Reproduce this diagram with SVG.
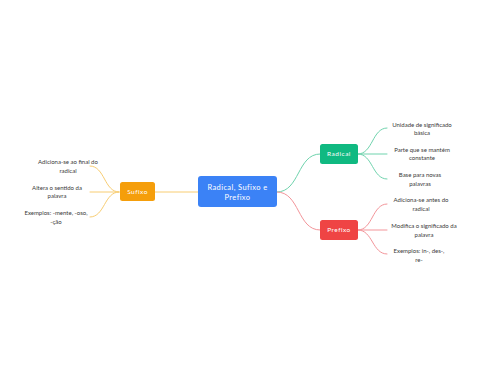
<svg xmlns="http://www.w3.org/2000/svg" width="480" height="384" viewBox="0 0 480 384">
<style>
.bg{fill:#ffffff}
.c{fill:none;stroke-width:1;stroke-linecap:round}
.g{stroke:#6fd3ad}
.r{stroke:#f3959a}
.o{stroke:#f8cd72}
.nt{font-family:Lato,"Noto Sans",sans-serif;font-size:6.5px;fill:#ffffff;text-anchor:middle;letter-spacing:0.5px}
.ct{font-family:Lato,"Noto Sans",sans-serif;font-size:7.5px;fill:#ffffff;text-anchor:middle;letter-spacing:0.4px}
.lt{font-family:Lato,"Noto Sans",sans-serif;font-size:6px;fill:#3a3a3a;text-anchor:middle}
</style>
<rect class="bg" x="0" y="0" width="480" height="384"/>
<g id="connectors">
<path class="c g" d="M277,192 C300,192 297,154 320,154"/>
<path class="c r" d="M277,192 C300,192 297,230 320,230"/>
<path class="c o" d="M198,192 L154,192"/>
<path class="c g" d="M358,154 C373,154 372,128 387,128"/>
<path class="c g" d="M358,154 L387,154"/>
<path class="c g" d="M358,154 C373,154 372,179 387,179"/>
<path class="c r" d="M358,230 C373,230 372,204 387,204"/>
<path class="c r" d="M358,230 L387,230"/>
<path class="c r" d="M358,230 C373,230 372,254 387,254"/>
<path class="c o" d="M119,192 C104,192 105,166 90,166"/>
<path class="c o" d="M119,192 L90,192"/>
<path class="c o" d="M119,192 C104,192 105,217 90,217"/>
</g>
<g id="center">
<rect x="198" y="176" width="79" height="31" rx="3" fill="#3b82f6"/>
<text class="ct" x="237.5" y="189.5">Radical, Sufixo e</text>
<text class="ct" x="237.5" y="200">Prefixo</text>
</g>
<g id="radical">
<rect x="320" y="144" width="38" height="20" rx="2.5" fill="#10b981"/>
<text class="nt" x="339" y="156.3">Radical</text>
</g>
<g id="prefixo">
<rect x="320" y="220" width="38" height="20" rx="2.5" fill="#ef4444"/>
<text class="nt" x="339" y="232.3">Prefixo</text>
</g>
<g id="sufixo">
<rect x="120" y="182" width="35" height="19" rx="2.5" fill="#f59e0b"/>
<text class="nt" x="137.5" y="193.8">Sufixo</text>
</g>
<g id="r1"><text class="lt" x="422" y="126.5">Unidade de significado</text><text class="lt" x="422" y="135">básica</text></g>
<g id="r2"><text class="lt" x="422" y="151.5">Parte que se mantém</text><text class="lt" x="422" y="160">constante</text></g>
<g id="r3"><text class="lt" x="420" y="177">Base para novas</text><text class="lt" x="420" y="185.5">palavras</text></g>
<g id="p1"><text class="lt" x="421" y="202">Adiciona-se antes do</text><text class="lt" x="421" y="210.5">radical</text></g>
<g id="p2"><text class="lt" x="424" y="228">Modifica o significado da</text><text class="lt" x="424" y="236.5">palavra</text></g>
<g id="p3"><text class="lt" x="419" y="253">Exemplos: in-, des-,</text><text class="lt" x="419" y="261.5">re-</text></g>
<g id="s1"><text class="lt" x="68" y="164">Adiciona-se ao final do</text><text class="lt" x="68" y="172.5">radical</text></g>
<g id="s2"><text class="lt" x="57" y="189.5">Altera o sentido da</text><text class="lt" x="57" y="198">palavra</text></g>
<g id="s3"><text class="lt" x="56" y="215">Exemplos: -mente, -oso,</text><text class="lt" x="56" y="223.5">-ção</text></g>
</svg>
